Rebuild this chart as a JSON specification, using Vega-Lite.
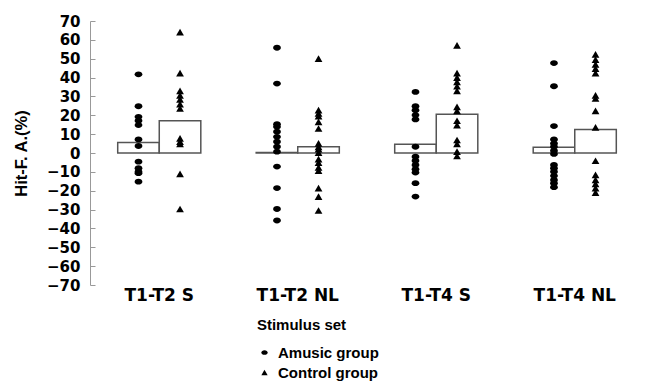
{
  "$schema": "https://vega.github.io/schema/vega-lite/v6.json",
  "autosize": {"type": "none"},
  "padding": {"left": 90, "top": 21, "right": 1, "bottom": 105},
  "width": 561,
  "height": 264,
  "background": "white",
  "config": {
    "font": "Liberation Sans",
    "view": {"stroke": null},
    "axis": {"labelFont": "DejaVu Sans", "titleFont": "Liberation Sans", "labelColor": "#000", "titleColor": "#000", "grid": false}
  },
  "datasets": {
    "means": [
      {"set": "T1-T2 S", "group": "Amusic group", "mean": 5.6},
      {"set": "T1-T2 S", "group": "Control group", "mean": 17.1},
      {"set": "T1-T2 NL", "group": "Amusic group", "mean": 0.3},
      {"set": "T1-T2 NL", "group": "Control group", "mean": 3.3},
      {"set": "T1-T4 S", "group": "Amusic group", "mean": 4.6},
      {"set": "T1-T4 S", "group": "Control group", "mean": 20.6},
      {"set": "T1-T4 NL", "group": "Amusic group", "mean": 3.0},
      {"set": "T1-T4 NL", "group": "Control group", "mean": 12.5}
    ],
    "points": [
      {"set": "T1-T2 S", "group": "Amusic group", "value": 41.7},
      {"set": "T1-T2 S", "group": "Amusic group", "value": 24.8},
      {"set": "T1-T2 S", "group": "Amusic group", "value": 19.2},
      {"set": "T1-T2 S", "group": "Amusic group", "value": 17.1},
      {"set": "T1-T2 S", "group": "Amusic group", "value": 14.8},
      {"set": "T1-T2 S", "group": "Amusic group", "value": 7.2},
      {"set": "T1-T2 S", "group": "Amusic group", "value": 3.7},
      {"set": "T1-T2 S", "group": "Amusic group", "value": -4.6},
      {"set": "T1-T2 S", "group": "Amusic group", "value": -8.1},
      {"set": "T1-T2 S", "group": "Amusic group", "value": -9.9},
      {"set": "T1-T2 S", "group": "Amusic group", "value": -10.7},
      {"set": "T1-T2 S", "group": "Amusic group", "value": -15.2},
      {"set": "T1-T2 S", "group": "Control group", "value": 64.1},
      {"set": "T1-T2 S", "group": "Control group", "value": 42.4},
      {"set": "T1-T2 S", "group": "Control group", "value": 32.9},
      {"set": "T1-T2 S", "group": "Control group", "value": 30.6},
      {"set": "T1-T2 S", "group": "Control group", "value": 28.4},
      {"set": "T1-T2 S", "group": "Control group", "value": 25.9},
      {"set": "T1-T2 S", "group": "Control group", "value": 23.6},
      {"set": "T1-T2 S", "group": "Control group", "value": 7.8},
      {"set": "T1-T2 S", "group": "Control group", "value": 6.0},
      {"set": "T1-T2 S", "group": "Control group", "value": 4.8},
      {"set": "T1-T2 S", "group": "Control group", "value": -11.1},
      {"set": "T1-T2 S", "group": "Control group", "value": -29.7},
      {"set": "T1-T2 NL", "group": "Amusic group", "value": 55.8},
      {"set": "T1-T2 NL", "group": "Amusic group", "value": 36.8},
      {"set": "T1-T2 NL", "group": "Amusic group", "value": 15.3},
      {"set": "T1-T2 NL", "group": "Amusic group", "value": 13.9},
      {"set": "T1-T2 NL", "group": "Amusic group", "value": 11.3},
      {"set": "T1-T2 NL", "group": "Amusic group", "value": 8.6},
      {"set": "T1-T2 NL", "group": "Amusic group", "value": 6.0},
      {"set": "T1-T2 NL", "group": "Amusic group", "value": 3.3},
      {"set": "T1-T2 NL", "group": "Amusic group", "value": 0.7},
      {"set": "T1-T2 NL", "group": "Amusic group", "value": -7.2},
      {"set": "T1-T2 NL", "group": "Amusic group", "value": -18.6},
      {"set": "T1-T2 NL", "group": "Amusic group", "value": -29.7},
      {"set": "T1-T2 NL", "group": "Amusic group", "value": -35.8},
      {"set": "T1-T2 NL", "group": "Control group", "value": 50.0},
      {"set": "T1-T2 NL", "group": "Control group", "value": 22.7},
      {"set": "T1-T2 NL", "group": "Control group", "value": 21.0},
      {"set": "T1-T2 NL", "group": "Control group", "value": 19.5},
      {"set": "T1-T2 NL", "group": "Control group", "value": 16.5},
      {"set": "T1-T2 NL", "group": "Control group", "value": 13.0},
      {"set": "T1-T2 NL", "group": "Control group", "value": 5.1},
      {"set": "T1-T2 NL", "group": "Control group", "value": 3.3},
      {"set": "T1-T2 NL", "group": "Control group", "value": 2.0},
      {"set": "T1-T2 NL", "group": "Control group", "value": 0.2},
      {"set": "T1-T2 NL", "group": "Control group", "value": -3.3},
      {"set": "T1-T2 NL", "group": "Control group", "value": -5.1},
      {"set": "T1-T2 NL", "group": "Control group", "value": -7.6},
      {"set": "T1-T2 NL", "group": "Control group", "value": -9.4},
      {"set": "T1-T2 NL", "group": "Control group", "value": -18.6},
      {"set": "T1-T2 NL", "group": "Control group", "value": -23.1},
      {"set": "T1-T2 NL", "group": "Control group", "value": -30.5},
      {"set": "T1-T4 S", "group": "Amusic group", "value": 32.4},
      {"set": "T1-T4 S", "group": "Amusic group", "value": 24.8},
      {"set": "T1-T4 S", "group": "Amusic group", "value": 22.7},
      {"set": "T1-T4 S", "group": "Amusic group", "value": 20.1},
      {"set": "T1-T4 S", "group": "Amusic group", "value": 17.8},
      {"set": "T1-T4 S", "group": "Amusic group", "value": 3.3},
      {"set": "T1-T4 S", "group": "Amusic group", "value": -2.0},
      {"set": "T1-T4 S", "group": "Amusic group", "value": -4.1},
      {"set": "T1-T4 S", "group": "Amusic group", "value": -6.3},
      {"set": "T1-T4 S", "group": "Amusic group", "value": -8.6},
      {"set": "T1-T4 S", "group": "Amusic group", "value": -10.4},
      {"set": "T1-T4 S", "group": "Amusic group", "value": -16.0},
      {"set": "T1-T4 S", "group": "Amusic group", "value": -23.1},
      {"set": "T1-T4 S", "group": "Control group", "value": 57.1},
      {"set": "T1-T4 S", "group": "Control group", "value": 42.4},
      {"set": "T1-T4 S", "group": "Control group", "value": 40.0},
      {"set": "T1-T4 S", "group": "Control group", "value": 37.7},
      {"set": "T1-T4 S", "group": "Control group", "value": 35.4},
      {"set": "T1-T4 S", "group": "Control group", "value": 32.9},
      {"set": "T1-T4 S", "group": "Control group", "value": 24.5},
      {"set": "T1-T4 S", "group": "Control group", "value": 22.3},
      {"set": "T1-T4 S", "group": "Control group", "value": 17.1},
      {"set": "T1-T4 S", "group": "Control group", "value": 14.8},
      {"set": "T1-T4 S", "group": "Control group", "value": 6.9},
      {"set": "T1-T4 S", "group": "Control group", "value": 4.8},
      {"set": "T1-T4 S", "group": "Control group", "value": 0.7},
      {"set": "T1-T4 S", "group": "Control group", "value": -1.6},
      {"set": "T1-T4 NL", "group": "Amusic group", "value": 47.7},
      {"set": "T1-T4 NL", "group": "Amusic group", "value": 35.4},
      {"set": "T1-T4 NL", "group": "Amusic group", "value": 14.3},
      {"set": "T1-T4 NL", "group": "Amusic group", "value": 7.2},
      {"set": "T1-T4 NL", "group": "Amusic group", "value": 5.1},
      {"set": "T1-T4 NL", "group": "Amusic group", "value": 3.3},
      {"set": "T1-T4 NL", "group": "Amusic group", "value": 1.2},
      {"set": "T1-T4 NL", "group": "Amusic group", "value": -0.5},
      {"set": "T1-T4 NL", "group": "Amusic group", "value": -6.3},
      {"set": "T1-T4 NL", "group": "Amusic group", "value": -8.1},
      {"set": "T1-T4 NL", "group": "Amusic group", "value": -9.9},
      {"set": "T1-T4 NL", "group": "Amusic group", "value": -12.1},
      {"set": "T1-T4 NL", "group": "Amusic group", "value": -14.3},
      {"set": "T1-T4 NL", "group": "Amusic group", "value": -16.0},
      {"set": "T1-T4 NL", "group": "Amusic group", "value": -18.1},
      {"set": "T1-T4 NL", "group": "Control group", "value": 52.3},
      {"set": "T1-T4 NL", "group": "Control group", "value": 49.5},
      {"set": "T1-T4 NL", "group": "Control group", "value": 47.0},
      {"set": "T1-T4 NL", "group": "Control group", "value": 44.7},
      {"set": "T1-T4 NL", "group": "Control group", "value": 42.4},
      {"set": "T1-T4 NL", "group": "Control group", "value": 30.6},
      {"set": "T1-T4 NL", "group": "Control group", "value": 28.9},
      {"set": "T1-T4 NL", "group": "Control group", "value": 22.3},
      {"set": "T1-T4 NL", "group": "Control group", "value": 13.6},
      {"set": "T1-T4 NL", "group": "Control group", "value": -4.1},
      {"set": "T1-T4 NL", "group": "Control group", "value": -11.6},
      {"set": "T1-T4 NL", "group": "Control group", "value": -14.3},
      {"set": "T1-T4 NL", "group": "Control group", "value": -16.4},
      {"set": "T1-T4 NL", "group": "Control group", "value": -18.6},
      {"set": "T1-T4 NL", "group": "Control group", "value": -21.0}
    ]
  },
  "encoding": {
    "x": {
      "field": "set", "type": "nominal",
      "sort": ["T1-T2 S", "T1-T2 NL", "T1-T4 S", "T1-T4 NL"],
      "scale": {"paddingInner": 0.4, "paddingOuter": 0.2253, "align": 0.444},
      "axis": {
        "labelAngle": 0, "ticks": false, "domain": false,
        "labelFontSize": 17, "labelFontWeight": "bold", "labelPadding": 2,
        "title": "Stimulus set", "titleFontSize": 15, "titleFontWeight": "bold", "titlePadding": 14,
        "titleX": 211, "titleAnchor": "middle"
      }
    },
    "xOffset": {
      "field": "group", "type": "nominal",
      "sort": ["Amusic group", "Control group"],
      "scale": {"paddingInner": 0, "paddingOuter": 0}
    },
    "y": {
      "type": "quantitative",
      "scale": {"domain": [-70, 70], "nice": false},
      "axis": {
        "title": "Hit-F. A.(%)",
        "values": [-70, -60, -50, -40, -30, -20, -10, 0, 10, 20, 30, 40, 50, 60, 70],
        "labelOverlap": false, "labelBound": false,
        "domainColor": "#999", "tickColor": "#999", "tickSize": -5,
        "labelFontSize": 15, "labelFontWeight": "bold", "labelPadding": 15,
        "titleFontSize": 16.5, "titleFontWeight": "bold", "titlePadding": 17
      }
    }
  },
  "layer": [
    {
      "data": {"name": "means"},
      "mark": {"type": "bar", "fill": "white", "stroke": "#555", "strokeWidth": 1.5},
      "encoding": {"y": {"field": "mean"}}
    },
    {
      "mark": {"type": "rule", "color": "#888", "strokeWidth": 1},
      "encoding": {"y": {"datum": 0}, "x": null, "xOffset": null}
    },
    {
      "data": {"name": "points"},
      "mark": {"type": "point", "filled": true, "opacity": 1, "color": "#000"},
      "encoding": {
        "y": {"field": "value"},
        "shape": {
          "field": "group", "type": "nominal",
          "scale": {"domain": ["Amusic group", "Control group"], "range": ["M-1,0A1,0.75 0 1 1 1,0A1,0.75 0 1 1 -1,0Z", "triangle-up"]},
          "legend": {
            "title": null, "orient": "none", "legendX": 167, "legendY": 324,
            "direction": "vertical", "symbolFillColor": "#000", "symbolStrokeColor": "#000",
            "symbolSize": 40, "labelFontSize": 15, "labelFontWeight": "bold", "labelColor": "#000",
            "labelFont": "Liberation Sans", "rowPadding": 4, "labelOffset": 6, "padding": 0
          }
        },
        "size": {"value": 60}
      }
    }
  ]
}
